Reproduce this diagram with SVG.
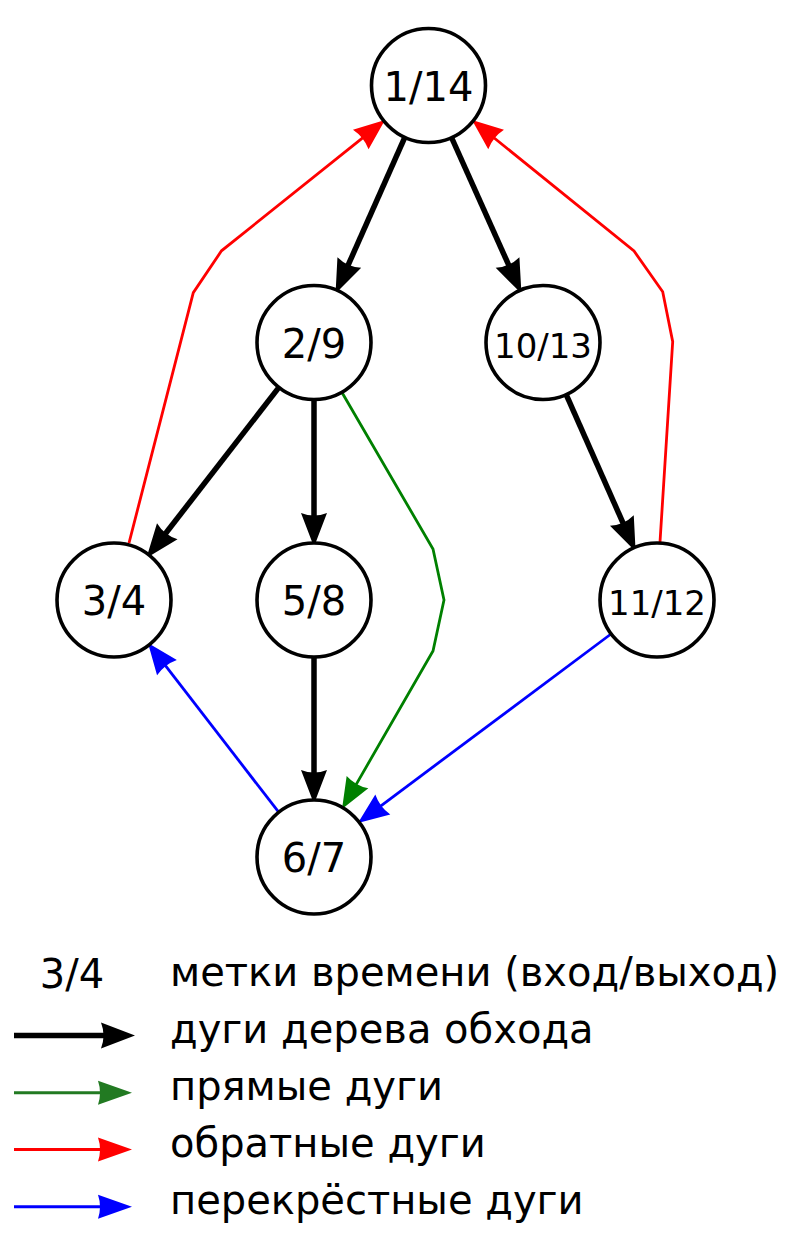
<svg xmlns="http://www.w3.org/2000/svg" width="800" height="1257" viewBox="0 0 800 1257">
<style>
.node circle{fill:#fff;stroke:#000;stroke-width:3.6}
.lbl{font-family:"DejaVu Sans",sans-serif;font-size:40px;text-anchor:middle;fill:#000}
.lbl.s{font-size:34px}
.tree{stroke:#000;stroke-width:5.5;fill:none}
.fwd{stroke:#008000;stroke-width:2.8;fill:none}
.back{stroke:#ff0000;stroke-width:2.8;fill:none}
.cross{stroke:#0000ff;stroke-width:2.8;fill:none}
.leg{font-family:"DejaVu Sans",sans-serif;font-size:40px;fill:#000}
</style>
<defs>
<marker id="mk" markerUnits="userSpaceOnUse" orient="auto" refX="6" refY="0" viewBox="-1 -14 37 28" markerWidth="37" markerHeight="28" overflow="visible">
<path d="M34,0 L0,-13 Q5,0 0,13 Z" fill="#000"/>
</marker>
<marker id="mg" markerUnits="userSpaceOnUse" orient="auto" refX="4" refY="0" viewBox="-1 -14 34 28" markerWidth="34" markerHeight="28" overflow="visible">
<path d="M31,0 L0,-12.5 Q4,0 0,12.5 Z" fill="#008000"/>
</marker>
<marker id="mr" markerUnits="userSpaceOnUse" orient="auto" refX="4" refY="0" viewBox="-1 -14 34 28" markerWidth="34" markerHeight="28" overflow="visible">
<path d="M31,0 L0,-12.5 Q4,0 0,12.5 Z" fill="#ff0000"/>
</marker>
<marker id="mb" markerUnits="userSpaceOnUse" orient="auto" refX="4" refY="0" viewBox="-1 -14 34 28" markerWidth="34" markerHeight="28" overflow="visible">
<path d="M31,0 L0,-12.5 Q4,0 0,12.5 Z" fill="#0000ff"/>
</marker>
<marker id="mgl" markerUnits="userSpaceOnUse" orient="auto" refX="4" refY="0" viewBox="-1 -14 37 28" markerWidth="37" markerHeight="28" overflow="visible">
<path d="M34,0 L0,-12 Q4,0 0,12 Z" fill="#227a22"/>
</marker>
<marker id="mrl" markerUnits="userSpaceOnUse" orient="auto" refX="4" refY="0" viewBox="-1 -14 37 28" markerWidth="37" markerHeight="28" overflow="visible">
<path d="M34,0 L0,-12 Q4,0 0,12 Z" fill="#ff0000"/>
</marker>
<marker id="mbl" markerUnits="userSpaceOnUse" orient="auto" refX="4" refY="0" viewBox="-1 -14 37 28" markerWidth="37" markerHeight="28" overflow="visible">
<path d="M34,0 L0,-12 Q4,0 0,12 Z" fill="#0000ff"/>
</marker>
</defs>
<g id="connectors">
<path class="tree" d="M404.9,137.1 L346.9,267.9" marker-end="url(#mk)"/>
<path class="tree" d="M451.3,137 L510,268" marker-end="url(#mk)"/>
<path class="tree" d="M279.1,387.1 L163.6,536" marker-end="url(#mk)"/>
<path class="tree" d="M314,399 L314,519" marker-end="url(#mk)"/>
<path class="tree" d="M566,394.1 L624.3,525.9" marker-end="url(#mk)"/>
<path class="tree" d="M314,657 L314,776" marker-end="url(#mk)"/>
<path class="fwd" d="M342,392.5 L433,549 L444,600 L433,651 L355.5,785.6" marker-end="url(#mg)"/>
<path class="back" d="M129,543 L193.3,292.7 L221.5,250.8 L363.9,136.9" marker-end="url(#mr)"/>
<path class="back" d="M660,542 L672.7,341.7 L662.7,291.7 L634,251 L493,137" marker-end="url(#mr)"/>
<path class="cross" d="M278.3,811.7 L164.5,664.4" marker-end="url(#mb)"/>
<path class="cross" d="M611,634 L379.6,806.8" marker-end="url(#mb)"/>
</g>
<g id="n1" class="node"><circle cx="428.5" cy="85.5" r="57"/><text class="lbl" x="428.5" y="101">1/14</text></g>
<g id="n2" class="node"><circle cx="314" cy="342.5" r="57"/><text class="lbl" x="314" y="358">2/9</text></g>
<g id="n10" class="node"><circle cx="543" cy="342.5" r="57"/><text class="lbl s" x="543" y="358">10/13</text></g>
<g id="n3" class="node"><circle cx="114" cy="600" r="57"/><text class="lbl" x="114" y="615">3/4</text></g>
<g id="n5" class="node"><circle cx="314" cy="600" r="57"/><text class="lbl" x="314" y="615">5/8</text></g>
<g id="n11" class="node"><circle cx="657" cy="600" r="57"/><text class="lbl s" x="657" y="615">11/12</text></g>
<g id="n6" class="node"><circle cx="314" cy="857" r="57"/><text class="lbl" x="314" y="872">6/7</text></g>
<g id="legend">
<text class="lbl" x="72" y="988">3/4</text>
<text class="leg" x="170" y="986">метки времени (вход/выход)</text>
<path d="M14,1035.5 L107,1035.5" stroke="#000" stroke-width="5.5" marker-end="url(#mk)"/>
<text class="leg" x="170" y="1043">дуги дерева обхода</text>
<path d="M14,1092.7 L102,1092.7" stroke="#227a22" stroke-width="3" marker-end="url(#mgl)"/>
<text class="leg" x="170" y="1100">прямые дуги</text>
<path d="M14,1149.5 L102,1149.5" stroke="#ff0000" stroke-width="3" marker-end="url(#mrl)"/>
<text class="leg" x="170" y="1157">обратные дуги</text>
<path d="M14,1206.7 L102,1206.7" stroke="#0000ff" stroke-width="3" marker-end="url(#mbl)"/>
<text class="leg" x="170" y="1214">перекрёстные дуги</text>
</g>
</svg>
